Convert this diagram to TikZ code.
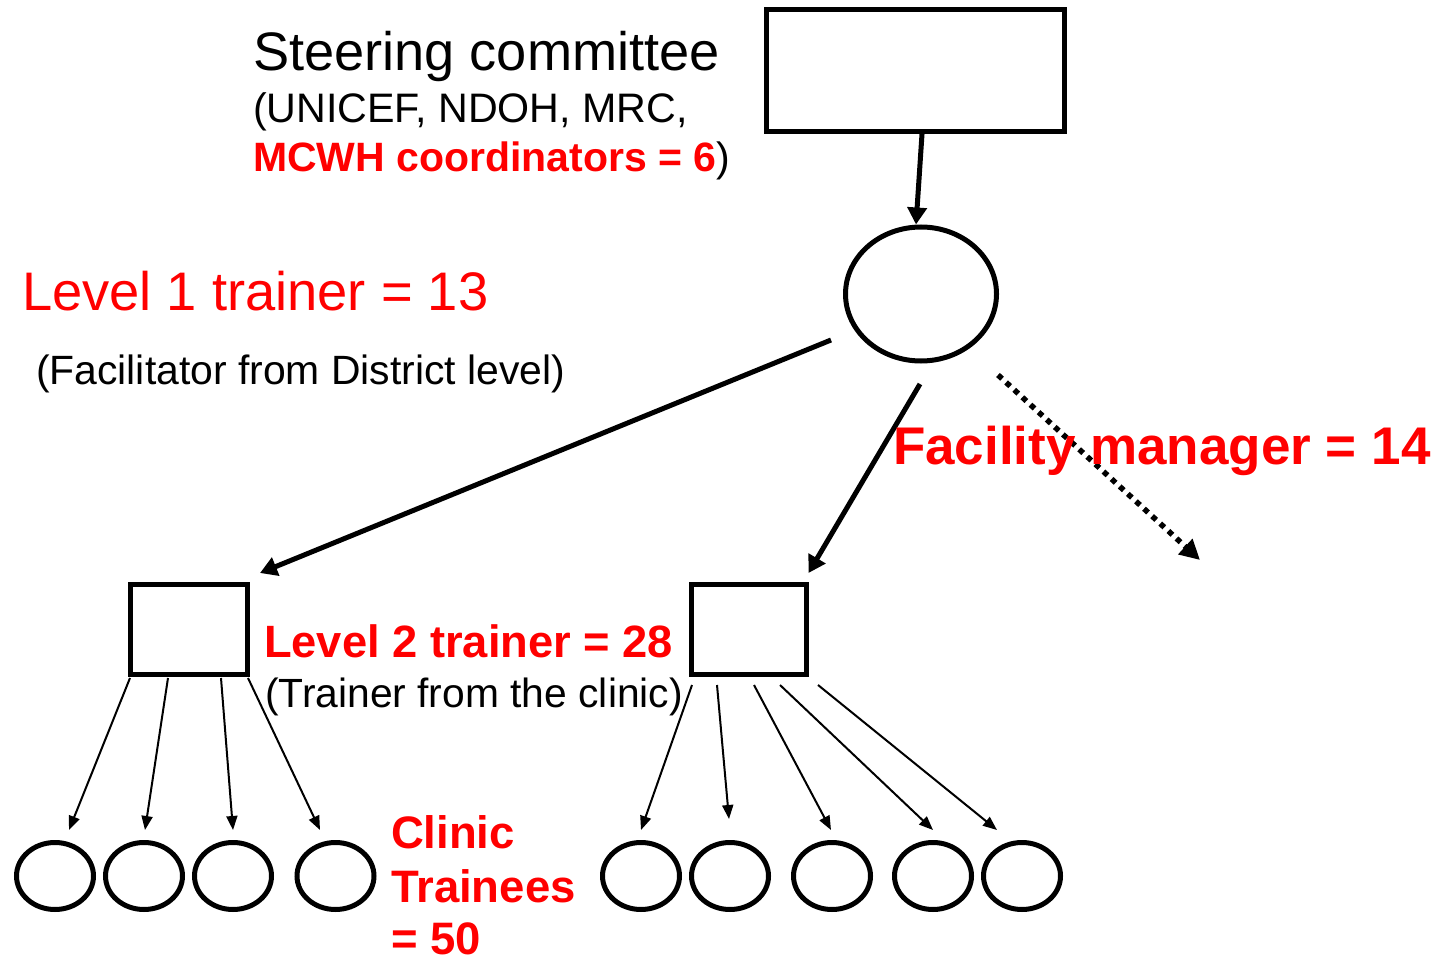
\documentclass[tikz,border=0pt]{standalone}
\usepackage{fontspec}
\setmainfont{Liberation Sans}
\usetikzlibrary{arrows.meta,shapes.geometric}
\definecolor{pptred}{RGB}{255,0,0}
\begin{document}
\begin{tikzpicture}[x=1pt,y=-1pt,
  box/.style={draw,line width=5pt,rectangle,inner sep=0pt},
  bigoval/.style={draw,line width=5pt,ellipse,inner sep=0pt,minimum width=151pt,minimum height=134pt},
  trainee/.style={draw,line width=5pt,ellipse,inner sep=0pt,minimum width=77pt,minimum height=67pt},
  lbl/.style={anchor=base west,inner sep=0pt,outer sep=0pt},
  thickarrow/.style={line width=5pt,-{Triangle[length=17pt,width=19pt]}},
  thinarrow/.style={line width=2pt,-{Triangle[length=14pt,width=11pt]}},
  dotarrow/.style={line width=5.5pt,dash pattern=on 5.5pt off 5.5pt,-{Triangle[length=20pt,width=20pt]}},
]
\useasboundingbox (0,0) rectangle (1445,957);

% shapes
\node[box,minimum width=298pt,minimum height=122pt] (sc) at (915.5,70.5) {};
\node[bigoval] (l1) at (921,294) {};
\node[box,minimum width=117pt,minimum height=90pt] (sqL) at (188.5,629) {};
\node[box,minimum width=115pt,minimum height=90pt] (sqR) at (748.5,629) {};

\node[trainee] (tL1) at (55,876) {};
\node[trainee] (tL2) at (144,876) {};
\node[trainee] (tL3) at (233,876) {};
\node[trainee] (tL4) at (335.5,876) {};
\node[trainee] (tR1) at (641,876) {};
\node[trainee] (tR2) at (730,876) {};
\node[trainee] (tR3) at (832,876) {};
\node[trainee] (tR4) at (933,876) {};
\node[trainee] (tR5) at (1022,876) {};

\coordinate (fmEnd) at (1200,560);

% connectors
\draw[thickarrow] ([xshift=6.5pt]sc.south) -- ([xshift=-5pt]l1.north);
\draw[thickarrow] ([xshift=-90pt,yshift=-46pt]l1.center) -- ([xshift=10.5pt,yshift=8.5pt]sqL.north east);
\draw[thickarrow] ([xshift=-1pt,yshift=-90pt]l1.center) -- ([yshift=8.5pt]sqR.north east);
\draw[dotarrow] ([xshift=77pt,yshift=-81pt]l1.center) -- (fmEnd);

\draw[thinarrow] ([xshift=-58.5pt,yshift=-1.5pt]sqL.south) -- ([xshift=14pt,yshift=10pt]tL1.north);
\draw[thinarrow] ([xshift=-20.5pt,yshift=-1.5pt]sqL.south) -- ([xshift=1pt,yshift=10pt]tL2.north);
\draw[thinarrow] ([xshift=32.5pt,yshift=-1.5pt]sqL.south) -- ([yshift=10pt]tL3.north);
\draw[thinarrow] ([xshift=59.5pt,yshift=-1.5pt]sqL.south) -- ([xshift=-15.5pt,yshift=10pt]tL4.north);

\draw[thinarrow] ([xshift=-56.5pt,yshift=-8.5pt]sqR.south) -- ([yshift=10pt]tR1.north);
\draw[thinarrow] ([xshift=-31.5pt,yshift=-8.5pt]sqR.south) -- ([xshift=-1pt,yshift=21pt]tR2.north);
\draw[thinarrow] ([xshift=5.5pt,yshift=-8.5pt]sqR.south) -- ([xshift=-1pt,yshift=10pt]tR3.north);
\draw[thinarrow] ([xshift=31.5pt,yshift=-8.5pt]sqR.south) -- ([yshift=10pt]tR4.north);
\draw[thinarrow] ([xshift=69.5pt,yshift=-8.5pt]sqR.south) -- ([xshift=-25pt,yshift=10pt]tR5.north);

% labels
\node[lbl,font=\fontsize{54.2}{54}\selectfont] (steerA) at (253,71) {Steering committee};
\node[lbl,font=\fontsize{41.2}{41}\selectfont] (steerB) at (253,123) {(UNICEF, NDOH, MRC,};
\node[lbl,font=\fontsize{41}{41}\selectfont] (steerC) at (253,172) {\textcolor{pptred}{\bfseries MCWH coordinators = 6})};
\node[lbl,text=pptred,font=\fontsize{54.3}{54}\selectfont] (lvlA) at (22,311) {Level 1 trainer = 13};
\node[lbl,font=\fontsize{40.9}{41}\selectfont] (facil) at (36,384) {(Facilitator from District level)};
\node[lbl,text=pptred,font=\bfseries\fontsize{53}{53}\selectfont] (fmgr) at (893,464) {Facility manager = 14};
\node[lbl,text=pptred,font=\bfseries\fontsize{45.3}{45}\selectfont] (lvlB) at (264,657) {Level 2 trainer = 28};
\node[lbl,font=\fontsize{40.8}{41}\selectfont] (clinicT) at (265,707) {(Trainer from the clinic)};
\node[lbl,text=pptred,font=\bfseries\fontsize{45.5}{45}\selectfont] (ctA) at (391,848) {Clinic};
\node[lbl,text=pptred,font=\bfseries\fontsize{45.5}{45}\selectfont] (ctB) at (391,902) {Trainees};
\node[lbl,text=pptred,font=\bfseries\fontsize{45.5}{45}\selectfont] (ctC) at (391,954) {= 50};
\end{tikzpicture}
\end{document}
